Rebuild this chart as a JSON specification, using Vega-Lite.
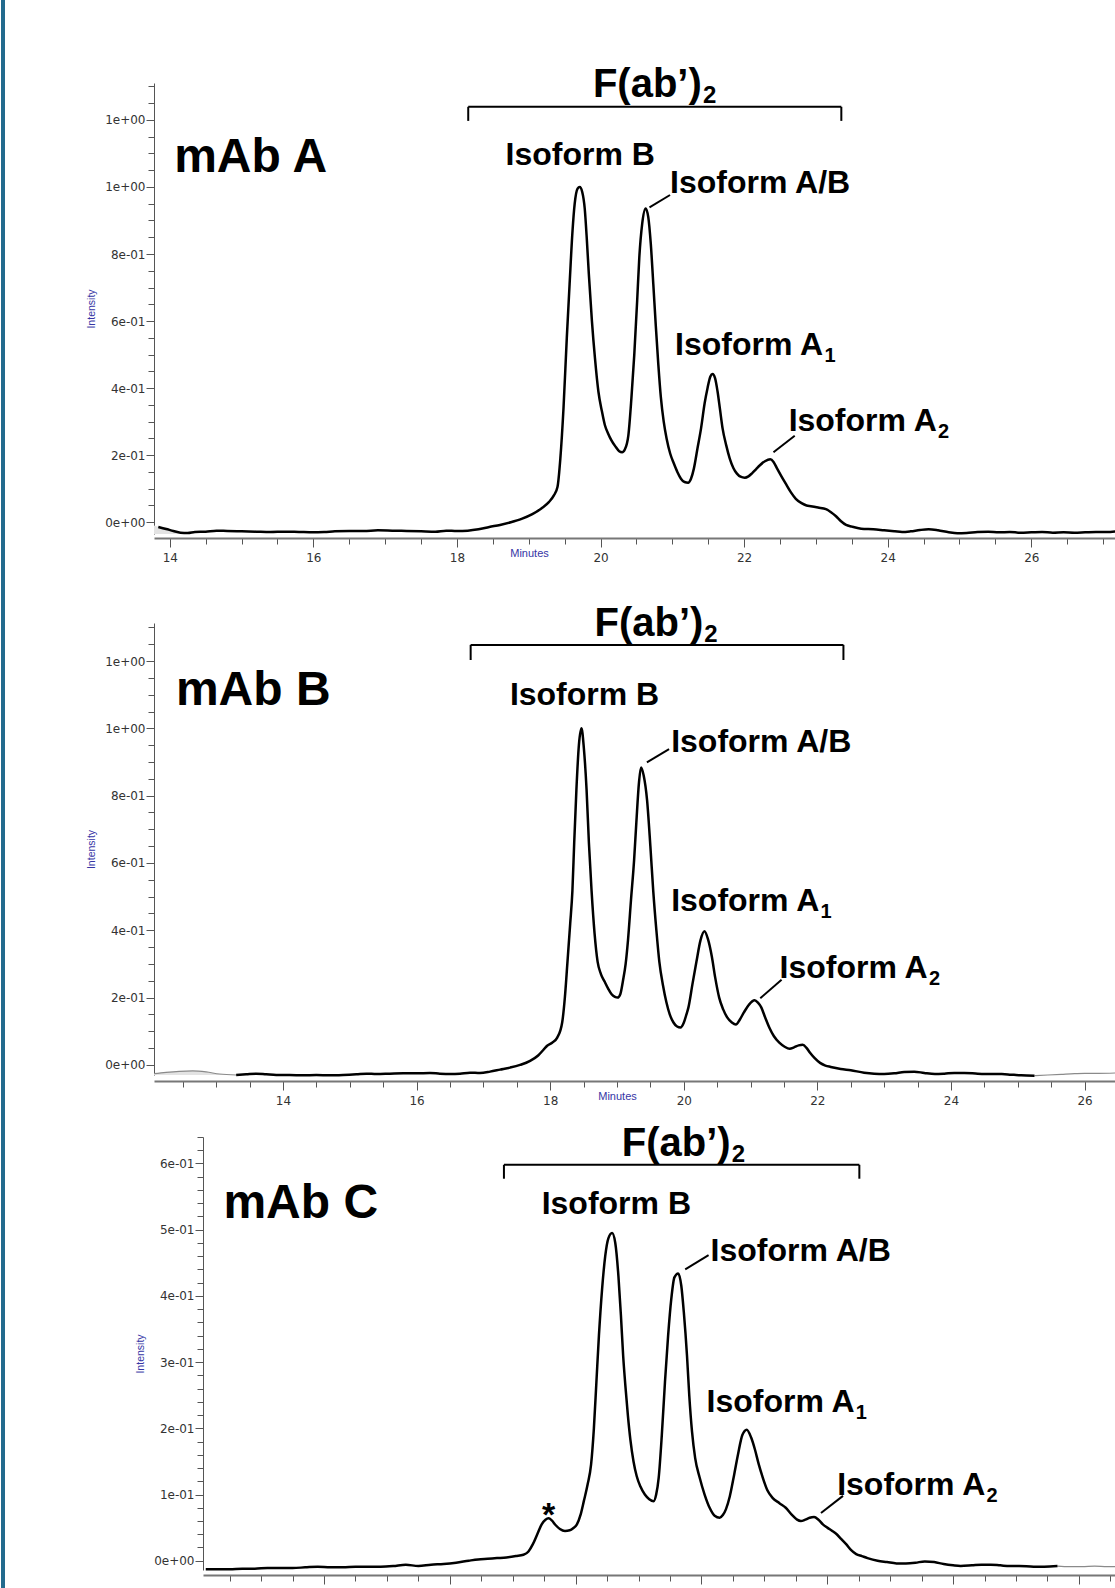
{
"$schema": "https://vega.github.io/schema/vega-lite/v6.json",
"padding": 0,
"background": "white",
"config": {"view": {"stroke": null}, "axis": {"grid": false, "labelFont": "DejaVu Sans", "labelFontSize": 12, "labelColor": "#333333", "labelFlush": false, "labelOverlap": false, "domainColor": "#555", "tickColor": "#555", "titleFont": "Liberation Sans", "titleFontWeight": "normal", "titleColor": "#3535a5", "titleFontSize": 10.5}},
"datasets": {
"a": [
{"t":13.78,"v":-0.010,"p":"gl"},{"t":13.9,"v":-0.017,"p":"gl"},{"t":14.05,"v":-0.026,"p":"gl"},{"t":14.15,"v":-0.031,"p":"gl"},{"t":14.25,"v":-0.032,"p":"gl"},
{"t":13.84,"v":-0.014,"p":"m"},{"t":13.95,"v":-0.02,"p":"m"},{"t":14.05,"v":-0.026,"p":"m"},{"t":14.15,"v":-0.031,"p":"m"},{"t":14.25,"v":-0.032,"p":"m"},{"t":14.35,"v":-0.029,"p":"m"},{"t":14.5,"v":-0.028,"p":"m"},{"t":14.65,"v":-0.025,"p":"m"},{"t":14.8,"v":-0.026,"p":"m"},{"t":15.0,"v":-0.027,"p":"m"},{"t":15.2,"v":-0.028,"p":"m"},{"t":15.4,"v":-0.029,"p":"m"},{"t":15.6,"v":-0.028,"p":"m"},{"t":15.8,"v":-0.029,"p":"m"},{"t":16.0,"v":-0.030,"p":"m"},{"t":16.15,"v":-0.029,"p":"m"},{"t":16.3,"v":-0.027,"p":"m"},{"t":16.5,"v":-0.026,"p":"m"},{"t":16.7,"v":-0.026,"p":"m"},{"t":16.9,"v":-0.024,"p":"m"},{"t":17.1,"v":-0.025,"p":"m"},{"t":17.3,"v":-0.026,"p":"m"},{"t":17.5,"v":-0.027,"p":"m"},{"t":17.7,"v":-0.028,"p":"m"},{"t":17.85,"v":-0.025,"p":"m"},{"t":18.0,"v":-0.026,"p":"m"},{"t":18.15,"v":-0.025,"p":"m"},{"t":18.3,"v":-0.021,"p":"m"},{"t":18.45,"v":-0.014,"p":"m"},{"t":18.6,"v":-0.008,"p":"m"},{"t":18.75,"v":0.0,"p":"m"},{"t":18.9,"v":0.01,"p":"m"},{"t":19.05,"v":0.024,"p":"m"},{"t":19.18,"v":0.042,"p":"m"},{"t":19.28,"v":0.06,"p":"m"},{"t":19.35,"v":0.08,"p":"m"},{"t":19.40,"v":0.105,"p":"m"},{"t":19.44,"v":0.19,"p":"m"},{"t":19.484,"v":0.34,"p":"m"},{"t":19.53,"v":0.55,"p":"m"},{"t":19.569,"v":0.71,"p":"m"},{"t":19.61,"v":0.87,"p":"m"},{"t":19.64,"v":0.95,"p":"m"},{"t":19.68,"v":0.995,"p":"m"},{"t":19.71,"v":1.0,"p":"m"},{"t":19.745,"v":0.985,"p":"m"},{"t":19.78,"v":0.935,"p":"m"},{"t":19.81,"v":0.84,"p":"m"},{"t":19.837,"v":0.74,"p":"m"},{"t":19.88,"v":0.60,"p":"m"},{"t":19.922,"v":0.49,"p":"m"},{"t":19.97,"v":0.39,"p":"m"},{"t":20.02,"v":0.33,"p":"m"},{"t":20.06,"v":0.29,"p":"m"},{"t":20.105,"v":0.265,"p":"m"},{"t":20.15,"v":0.245,"p":"m"},{"t":20.204,"v":0.227,"p":"m"},{"t":20.26,"v":0.212,"p":"m"},{"t":20.30,"v":0.209,"p":"m"},{"t":20.34,"v":0.218,"p":"m"},{"t":20.388,"v":0.26,"p":"m"},{"t":20.43,"v":0.37,"p":"m"},{"t":20.47,"v":0.5,"p":"m"},{"t":20.51,"v":0.66,"p":"m"},{"t":20.54,"v":0.79,"p":"m"},{"t":20.58,"v":0.89,"p":"m"},{"t":20.628,"v":0.936,"p":"m"},{"t":20.665,"v":0.91,"p":"m"},{"t":20.70,"v":0.83,"p":"m"},{"t":20.735,"v":0.71,"p":"m"},{"t":20.77,"v":0.585,"p":"m"},{"t":20.805,"v":0.47,"p":"m"},{"t":20.84,"v":0.373,"p":"m"},{"t":20.88,"v":0.3,"p":"m"},{"t":20.92,"v":0.25,"p":"m"},{"t":20.97,"v":0.205,"p":"m"},{"t":21.02,"v":0.176,"p":"m"},{"t":21.07,"v":0.15,"p":"m"},{"t":21.12,"v":0.13,"p":"m"},{"t":21.17,"v":0.12,"p":"m"},{"t":21.22,"v":0.118,"p":"m"},{"t":21.26,"v":0.13,"p":"m"},{"t":21.30,"v":0.16,"p":"m"},{"t":21.35,"v":0.22,"p":"m"},{"t":21.40,"v":0.28,"p":"m"},{"t":21.45,"v":0.355,"p":"m"},{"t":21.49,"v":0.40,"p":"m"},{"t":21.53,"v":0.435,"p":"m"},{"t":21.56,"v":0.442,"p":"m"},{"t":21.595,"v":0.43,"p":"m"},{"t":21.63,"v":0.39,"p":"m"},{"t":21.665,"v":0.335,"p":"m"},{"t":21.70,"v":0.28,"p":"m"},{"t":21.75,"v":0.23,"p":"m"},{"t":21.80,"v":0.19,"p":"m"},{"t":21.85,"v":0.162,"p":"m"},{"t":21.90,"v":0.145,"p":"m"},{"t":21.95,"v":0.136,"p":"m"},{"t":22.01,"v":0.133,"p":"m"},{"t":22.06,"v":0.137,"p":"m"},{"t":22.11,"v":0.146,"p":"m"},{"t":22.165,"v":0.158,"p":"m"},{"t":22.22,"v":0.17,"p":"m"},{"t":22.29,"v":0.182,"p":"m"},{"t":22.365,"v":0.188,"p":"m"},{"t":22.41,"v":0.18,"p":"m"},{"t":22.46,"v":0.16,"p":"m"},{"t":22.52,"v":0.137,"p":"m"},{"t":22.58,"v":0.115,"p":"m"},{"t":22.65,"v":0.09,"p":"m"},{"t":22.72,"v":0.07,"p":"m"},{"t":22.8,"v":0.057,"p":"m"},{"t":22.87,"v":0.05,"p":"m"},{"t":22.93,"v":0.048,"p":"m"},{"t":23.03,"v":0.044,"p":"m"},{"t":23.14,"v":0.039,"p":"m"},{"t":23.21,"v":0.03,"p":"m"},{"t":23.28,"v":0.018,"p":"m"},{"t":23.35,"v":0.003,"p":"m"},{"t":23.42,"v":-0.008,"p":"m"},{"t":23.5,"v":-0.013,"p":"m"},{"t":23.63,"v":-0.019,"p":"m"},{"t":23.8,"v":-0.021,"p":"m"},{"t":23.95,"v":-0.024,"p":"m"},{"t":24.1,"v":-0.027,"p":"m"},{"t":24.2,"v":-0.029,"p":"m"},{"t":24.32,"v":-0.027,"p":"m"},{"t":24.45,"v":-0.023,"p":"m"},{"t":24.57,"v":-0.021,"p":"m"},{"t":24.7,"v":-0.024,"p":"m"},{"t":24.85,"v":-0.03,"p":"m"},{"t":24.97,"v":-0.033,"p":"m"},{"t":25.1,"v":-0.032,"p":"m"},{"t":25.25,"v":-0.029,"p":"m"},{"t":25.4,"v":-0.028,"p":"m"},{"t":25.55,"v":-0.03,"p":"m"},{"t":25.7,"v":-0.029,"p":"m"},{"t":25.85,"v":-0.031,"p":"m"},{"t":26.0,"v":-0.030,"p":"m"},{"t":26.15,"v":-0.029,"p":"m"},{"t":26.3,"v":-0.031,"p":"m"},{"t":26.45,"v":-0.030,"p":"m"},{"t":26.6,"v":-0.031,"p":"m"},{"t":26.75,"v":-0.030,"p":"m"},{"t":26.9,"v":-0.029,"p":"m"},{"t":27.05,"v":-0.029,"p":"m"},{"t":27.18,"v":-0.027,"p":"m"}
],
"b": [
{"t":12.07,"v":-0.026,"p":"gl"},{"t":12.25,"v":-0.022,"p":"gl"},{"t":12.45,"v":-0.019,"p":"gl"},{"t":12.65,"v":-0.018,"p":"gl"},{"t":12.85,"v":-0.021,"p":"gl"},{"t":13.05,"v":-0.027,"p":"gl"},{"t":13.3,"v":-0.030,"p":"gl"},
{"t":13.3,"v":-0.030,"p":"m"},{"t":13.45,"v":-0.028,"p":"m"},{"t":13.6,"v":-0.026,"p":"m"},{"t":13.75,"v":-0.028,"p":"m"},{"t":13.9,"v":-0.030,"p":"m"},{"t":14.1,"v":-0.030,"p":"m"},{"t":14.3,"v":-0.031,"p":"m"},{"t":14.5,"v":-0.030,"p":"m"},{"t":14.7,"v":-0.031,"p":"m"},{"t":14.9,"v":-0.030,"p":"m"},{"t":15.1,"v":-0.028,"p":"m"},{"t":15.25,"v":-0.026,"p":"m"},{"t":15.4,"v":-0.027,"p":"m"},{"t":15.6,"v":-0.026,"p":"m"},{"t":15.8,"v":-0.025,"p":"m"},{"t":16.0,"v":-0.025,"p":"m"},{"t":16.2,"v":-0.024,"p":"m"},{"t":16.35,"v":-0.026,"p":"m"},{"t":16.5,"v":-0.027,"p":"m"},{"t":16.65,"v":-0.026,"p":"m"},{"t":16.8,"v":-0.023,"p":"m"},{"t":16.95,"v":-0.024,"p":"m"},{"t":17.1,"v":-0.02,"p":"m"},{"t":17.25,"v":-0.014,"p":"m"},{"t":17.4,"v":-0.008,"p":"m"},{"t":17.55,"v":0.0,"p":"m"},{"t":17.7,"v":0.012,"p":"m"},{"t":17.82,"v":0.028,"p":"m"},{"t":17.9,"v":0.045,"p":"m"},{"t":17.955,"v":0.057,"p":"m"},{"t":18.03,"v":0.066,"p":"m"},{"t":18.106,"v":0.081,"p":"m"},{"t":18.18,"v":0.126,"p":"m"},{"t":18.22,"v":0.2,"p":"m"},{"t":18.257,"v":0.30,"p":"m"},{"t":18.30,"v":0.42,"p":"m"},{"t":18.333,"v":0.517,"p":"m"},{"t":18.36,"v":0.66,"p":"m"},{"t":18.393,"v":0.818,"p":"m"},{"t":18.43,"v":0.95,"p":"m"},{"t":18.469,"v":1.0,"p":"m"},{"t":18.505,"v":0.94,"p":"m"},{"t":18.545,"v":0.818,"p":"m"},{"t":18.58,"v":0.66,"p":"m"},{"t":18.62,"v":0.517,"p":"m"},{"t":18.665,"v":0.39,"p":"m"},{"t":18.71,"v":0.307,"p":"m"},{"t":18.76,"v":0.27,"p":"m"},{"t":18.817,"v":0.247,"p":"m"},{"t":18.87,"v":0.226,"p":"m"},{"t":18.92,"v":0.21,"p":"m"},{"t":18.97,"v":0.202,"p":"m"},{"t":19.01,"v":0.2,"p":"m"},{"t":19.05,"v":0.21,"p":"m"},{"t":19.09,"v":0.25,"p":"m"},{"t":19.13,"v":0.3,"p":"m"},{"t":19.165,"v":0.37,"p":"m"},{"t":19.21,"v":0.49,"p":"m"},{"t":19.256,"v":0.607,"p":"m"},{"t":19.29,"v":0.72,"p":"m"},{"t":19.33,"v":0.84,"p":"m"},{"t":19.36,"v":0.884,"p":"m"},{"t":19.40,"v":0.86,"p":"m"},{"t":19.45,"v":0.788,"p":"m"},{"t":19.5,"v":0.65,"p":"m"},{"t":19.543,"v":0.517,"p":"m"},{"t":19.59,"v":0.4,"p":"m"},{"t":19.634,"v":0.307,"p":"m"},{"t":19.69,"v":0.235,"p":"m"},{"t":19.74,"v":0.186,"p":"m"},{"t":19.79,"v":0.15,"p":"m"},{"t":19.846,"v":0.126,"p":"m"},{"t":19.9,"v":0.114,"p":"m"},{"t":19.95,"v":0.111,"p":"m"},{"t":20.0,"v":0.125,"p":"m"},{"t":20.04,"v":0.15,"p":"m"},{"t":20.07,"v":0.171,"p":"m"},{"t":20.13,"v":0.24,"p":"m"},{"t":20.19,"v":0.307,"p":"m"},{"t":20.25,"v":0.37,"p":"m"},{"t":20.31,"v":0.397,"p":"m"},{"t":20.36,"v":0.375,"p":"m"},{"t":20.42,"v":0.322,"p":"m"},{"t":20.47,"v":0.26,"p":"m"},{"t":20.53,"v":0.2,"p":"m"},{"t":20.59,"v":0.165,"p":"m"},{"t":20.65,"v":0.141,"p":"m"},{"t":20.72,"v":0.126,"p":"m"},{"t":20.78,"v":0.12,"p":"m"},{"t":20.84,"v":0.135,"p":"m"},{"t":20.9,"v":0.156,"p":"m"},{"t":20.98,"v":0.18,"p":"m"},{"t":21.06,"v":0.192,"p":"m"},{"t":21.11,"v":0.185,"p":"m"},{"t":21.16,"v":0.171,"p":"m"},{"t":21.22,"v":0.14,"p":"m"},{"t":21.28,"v":0.111,"p":"m"},{"t":21.35,"v":0.085,"p":"m"},{"t":21.43,"v":0.066,"p":"m"},{"t":21.51,"v":0.054,"p":"m"},{"t":21.585,"v":0.048,"p":"m"},{"t":21.65,"v":0.052,"p":"m"},{"t":21.72,"v":0.058,"p":"m"},{"t":21.78,"v":0.06,"p":"m"},{"t":21.84,"v":0.05,"p":"m"},{"t":21.89,"v":0.036,"p":"m"},{"t":21.96,"v":0.02,"p":"m"},{"t":22.04,"v":0.006,"p":"m"},{"t":22.12,"v":-0.002,"p":"m"},{"t":22.2,"v":-0.006,"p":"m"},{"t":22.35,"v":-0.012,"p":"m"},{"t":22.5,"v":-0.016,"p":"m"},{"t":22.7,"v":-0.023,"p":"m"},{"t":22.85,"v":-0.026,"p":"m"},{"t":23.0,"v":-0.027,"p":"m"},{"t":23.15,"v":-0.025,"p":"m"},{"t":23.3,"v":-0.021,"p":"m"},{"t":23.45,"v":-0.02,"p":"m"},{"t":23.6,"v":-0.024,"p":"m"},{"t":23.76,"v":-0.027,"p":"m"},{"t":23.9,"v":-0.026,"p":"m"},{"t":24.05,"v":-0.024,"p":"m"},{"t":24.2,"v":-0.024,"p":"m"},{"t":24.4,"v":-0.026,"p":"m"},{"t":24.6,"v":-0.027,"p":"m"},{"t":24.76,"v":-0.027,"p":"m"},{"t":24.9,"v":-0.029,"p":"m"},{"t":25.05,"v":-0.031,"p":"m"},{"t":25.25,"v":-0.032,"p":"m"},
{"t":25.25,"v":-0.032,"p":"gr"},{"t":25.45,"v":-0.03,"p":"gr"},{"t":25.65,"v":-0.028,"p":"gr"},{"t":25.85,"v":-0.026,"p":"gr"},{"t":26.0,"v":-0.025,"p":"gr"},{"t":26.2,"v":-0.025,"p":"gr"},{"t":26.47,"v":-0.024,"p":"gr"}
],
"c": [
{"t":12.12,"v":-0.013,"p":"m"},{"t":12.3,"v":-0.013,"p":"m"},{"t":12.5,"v":-0.013,"p":"m"},{"t":12.7,"v":-0.012,"p":"m"},{"t":12.9,"v":-0.012,"p":"m"},{"t":13.1,"v":-0.011,"p":"m"},{"t":13.3,"v":-0.011,"p":"m"},{"t":13.5,"v":-0.011,"p":"m"},{"t":13.7,"v":-0.010,"p":"m"},{"t":13.9,"v":-0.009,"p":"m"},{"t":14.1,"v":-0.010,"p":"m"},{"t":14.3,"v":-0.010,"p":"m"},{"t":14.5,"v":-0.009,"p":"m"},{"t":14.7,"v":-0.009,"p":"m"},{"t":14.9,"v":-0.009,"p":"m"},{"t":15.1,"v":-0.008,"p":"m"},{"t":15.3,"v":-0.006,"p":"m"},{"t":15.5,"v":-0.008,"p":"m"},{"t":15.7,"v":-0.006,"p":"m"},{"t":15.9,"v":-0.005,"p":"m"},{"t":16.1,"v":-0.003,"p":"m"},{"t":16.3,"v":0.0,"p":"m"},{"t":16.45,"v":0.002,"p":"m"},{"t":16.6,"v":0.003,"p":"m"},{"t":16.75,"v":0.004,"p":"m"},{"t":16.9,"v":0.005,"p":"m"},{"t":17.05,"v":0.007,"p":"m"},{"t":17.17,"v":0.009,"p":"m"},{"t":17.25,"v":0.014,"p":"m"},{"t":17.32,"v":0.025,"p":"m"},{"t":17.39,"v":0.04,"p":"m"},{"t":17.46,"v":0.055,"p":"m"},{"t":17.52,"v":0.062,"p":"m"},{"t":17.57,"v":0.064,"p":"m"},{"t":17.62,"v":0.061,"p":"m"},{"t":17.68,"v":0.054,"p":"m"},{"t":17.75,"v":0.048,"p":"m"},{"t":17.83,"v":0.045,"p":"m"},{"t":17.906,"v":0.046,"p":"m"},{"t":17.96,"v":0.049,"p":"m"},{"t":18.02,"v":0.055,"p":"m"},{"t":18.08,"v":0.07,"p":"m"},{"t":18.13,"v":0.09,"p":"m"},{"t":18.19,"v":0.115,"p":"m"},{"t":18.245,"v":0.145,"p":"m"},{"t":18.29,"v":0.2,"p":"m"},{"t":18.33,"v":0.27,"p":"m"},{"t":18.37,"v":0.34,"p":"m"},{"t":18.42,"v":0.41,"p":"m"},{"t":18.47,"v":0.46,"p":"m"},{"t":18.52,"v":0.487,"p":"m"},{"t":18.58,"v":0.495,"p":"m"},{"t":18.63,"v":0.48,"p":"m"},{"t":18.68,"v":0.43,"p":"m"},{"t":18.72,"v":0.37,"p":"m"},{"t":18.755,"v":0.31,"p":"m"},{"t":18.79,"v":0.265,"p":"m"},{"t":18.83,"v":0.22,"p":"m"},{"t":18.87,"v":0.183,"p":"m"},{"t":18.92,"v":0.15,"p":"m"},{"t":18.97,"v":0.128,"p":"m"},{"t":19.03,"v":0.112,"p":"m"},{"t":19.1,"v":0.1,"p":"m"},{"t":19.17,"v":0.093,"p":"m"},{"t":19.24,"v":0.09,"p":"m"},{"t":19.28,"v":0.1,"p":"m"},{"t":19.32,"v":0.125,"p":"m"},{"t":19.37,"v":0.19,"p":"m"},{"t":19.42,"v":0.27,"p":"m"},{"t":19.47,"v":0.34,"p":"m"},{"t":19.52,"v":0.395,"p":"m"},{"t":19.57,"v":0.428,"p":"m"},{"t":19.63,"v":0.434,"p":"m"},{"t":19.68,"v":0.415,"p":"m"},{"t":19.72,"v":0.375,"p":"m"},{"t":19.77,"v":0.31,"p":"m"},{"t":19.806,"v":0.25,"p":"m"},{"t":19.85,"v":0.195,"p":"m"},{"t":19.9,"v":0.155,"p":"m"},{"t":19.97,"v":0.126,"p":"m"},{"t":20.05,"v":0.1,"p":"m"},{"t":20.13,"v":0.08,"p":"m"},{"t":20.21,"v":0.068,"p":"m"},{"t":20.29,"v":0.065,"p":"m"},{"t":20.34,"v":0.069,"p":"m"},{"t":20.39,"v":0.078,"p":"m"},{"t":20.45,"v":0.097,"p":"m"},{"t":20.52,"v":0.13,"p":"m"},{"t":20.58,"v":0.16,"p":"m"},{"t":20.65,"v":0.19,"p":"m"},{"t":20.72,"v":0.198,"p":"m"},{"t":20.79,"v":0.186,"p":"m"},{"t":20.85,"v":0.168,"p":"m"},{"t":20.91,"v":0.146,"p":"m"},{"t":20.97,"v":0.127,"p":"m"},{"t":21.05,"v":0.106,"p":"m"},{"t":21.13,"v":0.095,"p":"m"},{"t":21.24,"v":0.087,"p":"m"},{"t":21.34,"v":0.08,"p":"m"},{"t":21.45,"v":0.068,"p":"m"},{"t":21.52,"v":0.062,"p":"m"},{"t":21.58,"v":0.06,"p":"m"},{"t":21.65,"v":0.062,"p":"m"},{"t":21.72,"v":0.065,"p":"m"},{"t":21.79,"v":0.066,"p":"m"},{"t":21.86,"v":0.062,"p":"m"},{"t":21.93,"v":0.055,"p":"m"},{"t":22.0,"v":0.05,"p":"m"},{"t":22.08,"v":0.045,"p":"m"},{"t":22.15,"v":0.04,"p":"m"},{"t":22.22,"v":0.033,"p":"m"},{"t":22.3,"v":0.025,"p":"m"},{"t":22.38,"v":0.016,"p":"m"},{"t":22.46,"v":0.01,"p":"m"},{"t":22.55,"v":0.007,"p":"m"},{"t":22.64,"v":0.004,"p":"m"},{"t":22.8,"v":0.0,"p":"m"},{"t":22.95,"v":-0.002,"p":"m"},{"t":23.1,"v":-0.004,"p":"m"},{"t":23.25,"v":-0.004,"p":"m"},{"t":23.4,"v":-0.003,"p":"m"},{"t":23.55,"v":-0.001,"p":"m"},{"t":23.7,"v":-0.002,"p":"m"},{"t":23.85,"v":-0.005,"p":"m"},{"t":24.0,"v":-0.007,"p":"m"},{"t":24.12,"v":-0.008,"p":"m"},{"t":24.3,"v":-0.007,"p":"m"},{"t":24.45,"v":-0.006,"p":"m"},{"t":24.6,"v":-0.006,"p":"m"},{"t":24.75,"v":-0.007,"p":"m"},{"t":24.9,"v":-0.008,"p":"m"},{"t":25.05,"v":-0.008,"p":"m"},{"t":25.28,"v":-0.009,"p":"m"},{"t":25.45,"v":-0.009,"p":"m"},{"t":25.66,"v":-0.008,"p":"m"},
{"t":25.66,"v":-0.008,"p":"gr"},{"t":25.85,"v":-0.009,"p":"gr"},{"t":26.05,"v":-0.009,"p":"gr"},{"t":26.25,"v":-0.008,"p":"gr"},{"t":26.45,"v":-0.009,"p":"gr"},{"t":26.59,"v":-0.009,"p":"gr"}
],
"ann": [
{"panel":"A","k":"title","t":19.894,"v":1.267,"s":"F(ab’)"},
{"panel":"A","k":"subT","t":21.427,"v":1.249,"s":"2"},
{"panel":"A","k":"name","t":14.061,"v":1.045,"s":"mAb A"},
{"panel":"A","k":"isoC","t":19.718,"v":1.064,"s":"Isoform B"},
{"panel":"A","k":"isoL","t":20.968,"v":0.982,"s":"Isoform A/B"},
{"panel":"A","k":"isoL","t":21.038,"v":0.5,"s":"Isoform A"},
{"panel":"A","k":"sub","t":23.121,"v":0.479,"s":"1"},
{"panel":"A","k":"isoL","t":22.62,"v":0.273,"s":"Isoform A"},
{"panel":"A","k":"sub","t":24.702,"v":0.252,"s":"2"},
{"panel":"B","k":"title","t":18.663,"v":1.275,"s":"F(ab’)"},
{"panel":"B","k":"subT","t":20.308,"v":1.257,"s":"2"},
{"panel":"B","k":"name","t":12.398,"v":1.068,"s":"mAb B"},
{"panel":"B","k":"isoC","t":18.515,"v":1.068,"s":"Isoform B"},
{"panel":"B","k":"isoL","t":19.811,"v":0.929,"s":"Isoform A/B"},
{"panel":"B","k":"isoL","t":19.811,"v":0.457,"s":"Isoform A"},
{"panel":"B","k":"sub","t":22.046,"v":0.436,"s":"1"},
{"panel":"B","k":"isoL","t":21.434,"v":0.259,"s":"Isoform A"},
{"panel":"B","k":"sub","t":23.669,"v":0.238,"s":"2"},
{"panel":"C","k":"title","t":18.734,"v":0.611,"s":"F(ab’)"},
{"panel":"C","k":"subT","t":20.481,"v":0.602,"s":"2"},
{"panel":"C","k":"name","t":12.40,"v":0.518,"s":"mAb C"},
{"panel":"C","k":"isoC","t":18.647,"v":0.523,"s":"Isoform B"},
{"panel":"C","k":"isoL","t":20.145,"v":0.452,"s":"Isoform A/B"},
{"panel":"C","k":"isoL","t":20.08,"v":0.225,"s":"Isoform A"},
{"panel":"C","k":"sub","t":22.454,"v":0.2145,"s":"1"},
{"panel":"C","k":"isoL","t":22.157,"v":0.10,"s":"Isoform A"},
{"panel":"C","k":"sub","t":24.531,"v":0.0894,"s":"2"},
{"panel":"C","k":"star","t":17.569,"v":0.052,"s":"*"}
],
"rl": [
{"panel":"A","t":18.157,"t2":23.354,"v":1.239,"v2":1.239},{"panel":"A","t":18.157,"t2":18.157,"v":1.239,"v2":1.197},{"panel":"A","t":23.354,"t2":23.354,"v":1.239,"v2":1.197},
{"panel":"A","t":20.682,"t2":20.968,"v":0.939,"v2":0.976},{"panel":"A","t":22.409,"t2":22.705,"v":0.209,"v2":0.258},
{"panel":"B","t":16.81,"t2":22.39,"v":1.248,"v2":1.248},{"panel":"B","t":16.81,"t2":16.81,"v":1.248,"v2":1.203},{"panel":"B","t":22.39,"t2":22.39,"v":1.248,"v2":1.203},
{"panel":"B","t":19.448,"t2":19.78,"v":0.899,"v2":0.938},{"panel":"B","t":21.145,"t2":21.464,"v":0.198,"v2":0.253},
{"panel":"C","t":16.86,"t2":22.51,"v":0.598,"v2":0.598},{"panel":"C","t":16.86,"t2":16.86,"v":0.598,"v2":0.577},{"panel":"C","t":22.51,"t2":22.51,"v":0.598,"v2":0.577},
{"panel":"C","t":19.742,"t2":20.113,"v":0.44,"v2":0.4615},{"panel":"C","t":21.9,"t2":22.25,"v":0.072,"v2":0.098}
]
},
"hconcat": [
{"width": 4, "height": 1588, "view": {"fill": "#236b8e", "stroke": null}, "data": {"values": [{}]}, "mark": {"type": "point", "opacity": 0}},
{"vconcat": [
{"width": 10, "height": 83, "data": {"values": [{}]}, "mark": {"type": "point", "opacity": 0}},
{"width": 962, "height": 451,
 "encoding": {
  "x": {"field": "t", "type": "quantitative", "scale": {"domain": [13.78, 27.18], "nice": false, "zero": false},
   "axis": {"values": [14,14.5,15,15.5,16,16.5,17,17.5,18,18.5,19,19.5,20,20.5,21,21.5,22,22.5,23,23.5,24,24.5,25,25.5,26,26.5,27], "labelExpr": "datum.value % 2 == 0 ? format(datum.value, 'd') : ''", "tickSize": {"condition": {"test": "datum.value % 2 == 0", "value": 9}, "value": 6}, "offset": 4, "domainWidth": 2, "domainColor": "#777", "labelPadding": 5, "labelFontSize": 12, "title": "Minutes", "titleX": 375, "titleY": 9, "titleFontSize": 11}},
  "y": {"field": "v", "type": "quantitative", "scale": {"domain": [-0.035, 1.31], "nice": false, "zero": false},
   "axis": {"values": [0,0.05,0.1,0.15,0.2,0.25,0.3,0.35,0.4,0.45,0.5,0.55,0.6,0.65,0.7,0.75,0.8,0.85,0.9,0.95,1,1.05,1.1,1.15,1.2,1.25,1.3], "labelExpr": "abs(datum.value*5 - round(datum.value*5)) < 0.001 ? (datum.value < 0.001 ? '0e+00' : (datum.value > 0.99 ? '1e+00' : round(datum.value*10) + 'e-01')) : ''", "tickSize": {"condition": {"test": "abs(datum.value*5 - round(datum.value*5)) < 0.001", "value": 8}, "value": 6}, "labelPadding": 1, "title": "Intensity", "titlePadding": 8}}
 },
 "layer": [
  {"data": {"name": "a"}, "transform": [{"filter": "datum.p == 'gl'"}], "mark": {"type": "area", "color": "#e3e3e3", "interpolate": "monotone"}, "encoding": {"y2": {"datum": -0.035}}},
  {"data": {"name": "a"}, "transform": [{"filter": "datum.p == 'm'"}], "mark": {"type": "line", "color": "black", "strokeWidth": 2.5, "interpolate": "monotone"}},
  {"data": {"name": "rl"}, "transform": [{"filter": "datum.panel == 'A'"}], "mark": {"type": "rule", "color": "black", "strokeWidth": 2}, "encoding": {"x2": {"field": "t2"}, "y2": {"field": "v2"}}},
  {"data": {"name": "ann"}, "transform": [{"filter": "datum.panel == 'A' && datum.k == 'title'"}], "mark": {"type": "text", "font": "Liberation Sans", "fontWeight": "bold", "fontSize": 40, "align": "left", "baseline": "alphabetic"}, "encoding": {"text": {"field": "s"}}},
  {"data": {"name": "ann"}, "transform": [{"filter": "datum.panel == 'A' && datum.k == 'subT'"}], "mark": {"type": "text", "font": "Liberation Sans", "fontWeight": "bold", "fontSize": 24, "align": "left", "baseline": "alphabetic"}, "encoding": {"text": {"field": "s"}}},
  {"data": {"name": "ann"}, "transform": [{"filter": "datum.panel == 'A' && datum.k == 'name'"}], "mark": {"type": "text", "font": "Liberation Sans", "fontWeight": "bold", "fontSize": 48, "align": "left", "baseline": "alphabetic"}, "encoding": {"text": {"field": "s"}}},
  {"data": {"name": "ann"}, "transform": [{"filter": "datum.panel == 'A' && datum.k == 'isoC'"}], "mark": {"type": "text", "font": "Liberation Sans", "fontWeight": "bold", "fontSize": 32, "align": "center", "baseline": "alphabetic"}, "encoding": {"text": {"field": "s"}}},
  {"data": {"name": "ann"}, "transform": [{"filter": "datum.panel == 'A' && datum.k == 'isoL'"}], "mark": {"type": "text", "font": "Liberation Sans", "fontWeight": "bold", "fontSize": 32, "align": "left", "baseline": "alphabetic"}, "encoding": {"text": {"field": "s"}}},
  {"data": {"name": "ann"}, "transform": [{"filter": "datum.panel == 'A' && datum.k == 'sub'"}], "mark": {"type": "text", "font": "Liberation Sans", "fontWeight": "bold", "fontSize": 20, "align": "left", "baseline": "alphabetic"}, "encoding": {"text": {"field": "s"}}}
 ]
},
{"width": 10, "height": 89, "data": {"values": [{}]}, "mark": {"type": "point", "opacity": 0}},
{"width": 962, "height": 452,
 "encoding": {
  "x": {"field": "t", "type": "quantitative", "scale": {"domain": [12.07, 26.47], "nice": false, "zero": false},
   "axis": {"values": [12.5,13,13.5,14,14.5,15,15.5,16,16.5,17,17.5,18,18.5,19,19.5,20,20.5,21,21.5,22,22.5,23,23.5,24,24.5,25,25.5,26], "labelExpr": "datum.value % 2 == 0 ? format(datum.value, 'd') : ''", "tickSize": {"condition": {"test": "datum.value % 2 == 0", "value": 9}, "value": 6}, "offset": 6, "domainWidth": 2, "domainColor": "#777", "labelPadding": 5, "labelFontSize": 12, "title": "Minutes", "titleX": 463, "titleY": 9, "titleFontSize": 11}},
  "y": {"field": "v", "type": "quantitative", "scale": {"domain": [-0.03, 1.313], "nice": false, "zero": false},
   "axis": {"values": [0,0.05,0.1,0.15,0.2,0.25,0.3,0.35,0.4,0.45,0.5,0.55,0.6,0.65,0.7,0.75,0.8,0.85,0.9,0.95,1,1.05,1.1,1.15,1.2,1.25,1.3], "labelExpr": "abs(datum.value*5 - round(datum.value*5)) < 0.001 ? (datum.value < 0.001 ? '0e+00' : (datum.value > 0.99 ? '1e+00' : round(datum.value*10) + 'e-01')) : ''", "tickSize": {"condition": {"test": "abs(datum.value*5 - round(datum.value*5)) < 0.001", "value": 8}, "value": 6}, "labelPadding": 1, "title": "Intensity", "titlePadding": 8}}
 },
 "layer": [
  {"data": {"name": "b"}, "transform": [{"filter": "datum.p == 'gl'"}], "mark": {"type": "area", "color": "#e3e3e3", "interpolate": "monotone"}, "encoding": {"y2": {"datum": -0.03}}},
  {"data": {"name": "b"}, "transform": [{"filter": "datum.p != 'm'"}], "mark": {"type": "line", "color": "#8a8a8a", "strokeWidth": 1.2, "interpolate": "monotone"}, "encoding": {"detail": {"field": "p"}}},
  {"data": {"name": "b"}, "transform": [{"filter": "datum.p == 'm'"}], "mark": {"type": "line", "color": "black", "strokeWidth": 2.5, "interpolate": "monotone"}},
  {"data": {"name": "rl"}, "transform": [{"filter": "datum.panel == 'B'"}], "mark": {"type": "rule", "color": "black", "strokeWidth": 2}, "encoding": {"x2": {"field": "t2"}, "y2": {"field": "v2"}}},
  {"data": {"name": "ann"}, "transform": [{"filter": "datum.panel == 'B' && datum.k == 'title'"}], "mark": {"type": "text", "font": "Liberation Sans", "fontWeight": "bold", "fontSize": 40, "align": "left", "baseline": "alphabetic"}, "encoding": {"text": {"field": "s"}}},
  {"data": {"name": "ann"}, "transform": [{"filter": "datum.panel == 'B' && datum.k == 'subT'"}], "mark": {"type": "text", "font": "Liberation Sans", "fontWeight": "bold", "fontSize": 24, "align": "left", "baseline": "alphabetic"}, "encoding": {"text": {"field": "s"}}},
  {"data": {"name": "ann"}, "transform": [{"filter": "datum.panel == 'B' && datum.k == 'name'"}], "mark": {"type": "text", "font": "Liberation Sans", "fontWeight": "bold", "fontSize": 48, "align": "left", "baseline": "alphabetic"}, "encoding": {"text": {"field": "s"}}},
  {"data": {"name": "ann"}, "transform": [{"filter": "datum.panel == 'B' && datum.k == 'isoC'"}], "mark": {"type": "text", "font": "Liberation Sans", "fontWeight": "bold", "fontSize": 32, "align": "center", "baseline": "alphabetic"}, "encoding": {"text": {"field": "s"}}},
  {"data": {"name": "ann"}, "transform": [{"filter": "datum.panel == 'B' && datum.k == 'isoL'"}], "mark": {"type": "text", "font": "Liberation Sans", "fontWeight": "bold", "fontSize": 32, "align": "left", "baseline": "alphabetic"}, "encoding": {"text": {"field": "s"}}},
  {"data": {"name": "ann"}, "transform": [{"filter": "datum.panel == 'B' && datum.k == 'sub'"}], "mark": {"type": "text", "font": "Liberation Sans", "fontWeight": "bold", "fontSize": 20, "align": "left", "baseline": "alphabetic"}, "encoding": {"text": {"field": "s"}}}
 ]
},
{"width": 10, "height": 62, "data": {"values": [{}]}, "mark": {"type": "point", "opacity": 0}},
{"hconcat": [
 {"width": 49, "height": 433, "data": {"values": [{}]}, "mark": {"type": "point", "opacity": 0}},
 {"width": 913, "height": 433,
  "encoding": {
   "x": {"field": "t", "type": "quantitative", "scale": {"domain": [12.076, 26.59], "nice": false, "zero": false},
    "axis": {"values": [12.5,13,13.5,14,14.5,15,15.5,16,16.5,17,17.5,18,18.5,19,19.5,20,20.5,21,21.5,22,22.5,23,23.5,24,24.5,25,25.5,26,26.5], "labels": false, "tickSize": {"condition": {"test": "datum.value % 2 == 0", "value": 9}, "value": 6}, "offset": 5, "domainWidth": 2, "domainColor": "#777", "title": null}},
   "y": {"field": "v", "type": "quantitative", "scale": {"domain": [-0.014, 0.64], "nice": false, "zero": false},
    "axis": {"values": [0,0.02,0.04,0.06,0.08,0.1,0.12,0.14,0.16,0.18,0.2,0.22,0.24,0.26,0.28,0.3,0.32,0.34,0.36,0.38,0.4,0.42,0.44,0.46,0.48,0.5,0.52,0.54,0.56,0.58,0.6,0.62,0.64], "labelExpr": "abs(datum.value*10 - round(datum.value*10)) < 0.001 ? (datum.value < 0.001 ? '0e+00' : round(datum.value*10) + 'e-01') : ''", "tickSize": {"condition": {"test": "abs(datum.value*10 - round(datum.value*10)) < 0.001", "value": 8}, "value": 6}, "labelPadding": 1, "title": "Intensity", "titlePadding": 8}}
  },
  "layer": [
   {"data": {"name": "c"}, "transform": [{"filter": "datum.p != 'm'"}], "mark": {"type": "line", "color": "#8a8a8a", "strokeWidth": 1.2, "interpolate": "monotone"}, "encoding": {"detail": {"field": "p"}}},
   {"data": {"name": "c"}, "transform": [{"filter": "datum.p == 'm'"}], "mark": {"type": "line", "color": "black", "strokeWidth": 2.5, "interpolate": "monotone"}},
   {"data": {"name": "rl"}, "transform": [{"filter": "datum.panel == 'C'"}], "mark": {"type": "rule", "color": "black", "strokeWidth": 2}, "encoding": {"x2": {"field": "t2"}, "y2": {"field": "v2"}}},
   {"data": {"name": "ann"}, "transform": [{"filter": "datum.panel == 'C' && datum.k == 'title'"}], "mark": {"type": "text", "font": "Liberation Sans", "fontWeight": "bold", "fontSize": 40, "align": "left", "baseline": "alphabetic"}, "encoding": {"text": {"field": "s"}}},
   {"data": {"name": "ann"}, "transform": [{"filter": "datum.panel == 'C' && datum.k == 'subT'"}], "mark": {"type": "text", "font": "Liberation Sans", "fontWeight": "bold", "fontSize": 24, "align": "left", "baseline": "alphabetic"}, "encoding": {"text": {"field": "s"}}},
   {"data": {"name": "ann"}, "transform": [{"filter": "datum.panel == 'C' && datum.k == 'name'"}], "mark": {"type": "text", "font": "Liberation Sans", "fontWeight": "bold", "fontSize": 48, "align": "left", "baseline": "alphabetic"}, "encoding": {"text": {"field": "s"}}},
   {"data": {"name": "ann"}, "transform": [{"filter": "datum.panel == 'C' && datum.k == 'isoC'"}], "mark": {"type": "text", "font": "Liberation Sans", "fontWeight": "bold", "fontSize": 32, "align": "center", "baseline": "alphabetic"}, "encoding": {"text": {"field": "s"}}},
   {"data": {"name": "ann"}, "transform": [{"filter": "datum.panel == 'C' && datum.k == 'isoL'"}], "mark": {"type": "text", "font": "Liberation Sans", "fontWeight": "bold", "fontSize": 32, "align": "left", "baseline": "alphabetic"}, "encoding": {"text": {"field": "s"}}},
   {"data": {"name": "ann"}, "transform": [{"filter": "datum.panel == 'C' && datum.k == 'sub'"}], "mark": {"type": "text", "font": "Liberation Sans", "fontWeight": "bold", "fontSize": 20, "align": "left", "baseline": "alphabetic"}, "encoding": {"text": {"field": "s"}}},
   {"data": {"name": "ann"}, "transform": [{"filter": "datum.panel == 'C' && datum.k == 'star'"}], "mark": {"type": "text", "font": "Liberation Sans", "fontWeight": "bold", "fontSize": 34, "align": "center", "baseline": "alphabetic"}, "encoding": {"text": {"field": "s"}}}
  ]
 }
], "spacing": 0, "bounds": "flush"}
], "spacing": 0, "bounds": "flush"}
],
"spacing": 149,
"bounds": "flush"
}
